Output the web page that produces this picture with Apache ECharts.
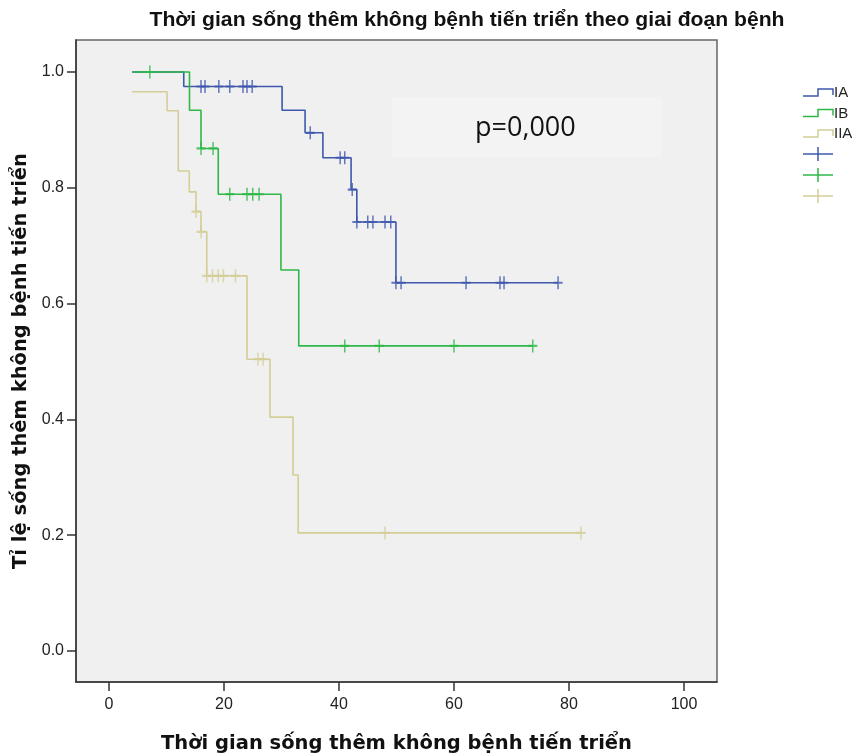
<!DOCTYPE html>
<html>
<head>
<meta charset="utf-8">
<script src="https://cdn.jsdelivr.net/npm/echarts@6/dist/echarts.min.js"></script>
<style>
  html, body { margin: 0; padding: 0; background: #fff; }
  #chart { width: 855px; height: 753px; }
</style>
</head>
<body>
<div id="chart"></div>
<script>
const groupNames = ['IA', 'IB', 'IIA']
const groupColors = ['#3E58AC', '#2EB848', '#D3CE97']

// Kaplan-Meier steps: time of each change and survival after it (last point = end of follow-up)
const iaTime = [4, 13, 30.1, 34.1, 37.2, 42.1, 43.1, 49.9, 78.1]
const iaSurv = [1.0, 0.975, 0.934, 0.895, 0.852, 0.797, 0.741, 0.636, 0.636]
const ibTime = [4, 14, 16, 19, 29.9, 33, 73.7]
const ibSurv = [1.0, 0.934, 0.868, 0.789, 0.658, 0.527, 0.527]
const iiaTime = [4, 10.1, 12.05, 13.96, 15.13, 16, 17, 24, 28, 32, 32.9, 82.1]
const iiaSurv = [0.966, 0.933, 0.829, 0.793, 0.759, 0.724, 0.648, 0.504, 0.404, 0.304, 0.204, 0.204]

// censored cases
const iaCensTime = [16, 16.7, 19.1, 21, 23.3, 24, 24.9, 35, 40.2, 41, 42.3, 43.1, 45, 45.9, 48, 49, 49.9, 50.8, 62.1, 68, 68.7, 78.1]
const iaCensSurv = [0.975, 0.975, 0.975, 0.975, 0.975, 0.975, 0.975, 0.895, 0.852, 0.852, 0.797, 0.741, 0.741, 0.741, 0.741, 0.741, 0.636, 0.636, 0.636, 0.636, 0.636, 0.636]
const ibCensTime = [7.1, 16, 18.1, 21, 24, 25, 26.1, 41, 47, 60, 73.7]
const ibCensSurv = [1.0, 0.868, 0.868, 0.789, 0.789, 0.789, 0.789, 0.527, 0.527, 0.527, 0.527]
const iiaCensTime = [15.13, 16, 17, 18, 19, 19.9, 22, 25.9, 26.8, 48, 82.1]
const iiaCensSurv = [0.759, 0.724, 0.648, 0.648, 0.648, 0.648, 0.648, 0.504, 0.504, 0.204, 0.204]

const xTicks = [0, 20, 40, 60, 80, 100]
const yTicks = [0, 0.2, 0.4, 0.6, 0.8, 1.0]

const titleText = 'Thời gian sống thêm không bệnh tiến triển theo giai đoạn bệnh'

const stepTimes = [iaTime, ibTime, iiaTime]
const stepSurv = [iaSurv, ibSurv, iiaSurv]
const censTimes = [iaCensTime, ibCensTime, iiaCensTime]
const censSurv = [iaCensSurv, ibCensSurv, iiaCensSurv]

const zip = (a, b) => a.map((v, i) => [v, b[i]])
const crossPath = 'path://M5,0H7V5H12V7H7V12H5V7H0V5H5Z'

const series = []
groupNames.forEach((name, i) => {
  series.push({
    name: name,
    type: 'line',
    step: 'end',
    showSymbol: false,
    silent: true,
    data: zip(stepTimes[i], stepSurv[i]),
    lineStyle: { color: groupColors[i], width: 1.6 },
    itemStyle: { color: groupColors[i] },
    z: 2 + i
  })
  series.push({
    name: name + ' censored',
    type: 'scatter',
    symbol: crossPath,
    symbolSize: [9, 13],
    silent: true,
    data: zip(censTimes[i], censSurv[i]),
    itemStyle: { color: groupColors[i] },
    z: 6
  })
})

// legend drawn like SPSS: step icons, then censor crosses
const legendGraphics = []
groupNames.forEach((name, i) => {
  const y = 93 + i * 20.5
  legendGraphics.push({
    type: 'polyline',
    shape: { points: [[803, y + 3], [818, y + 3], [818, y - 4], [833, y - 4], [833, y + 2]] },
    style: { stroke: groupColors[i], lineWidth: 1.5, fill: null }
  })
  legendGraphics.push({
    type: 'text',
    x: 834, y: y,
    style: { text: name, fill: '#222', font: '15px "Liberation Sans"', textVerticalAlign: 'middle' }
  })
  const cy = 154 + i * 21
  legendGraphics.push({
    type: 'line',
    shape: { x1: 803, y1: cy, x2: 833, y2: cy },
    style: { stroke: groupColors[i], lineWidth: 1.5 }
  })
  legendGraphics.push({
    type: 'line',
    shape: { x1: 818, y1: cy - 7, x2: 818, y2: cy + 7 },
    style: { stroke: groupColors[i], lineWidth: 1.5 }
  })
})

// title uses a condensed bold face: squeeze Liberation Sans Bold to the original width
const titleFont = 'bold 21px "Liberation Sans"'
const ctx = document.createElement('canvas').getContext('2d')
ctx.font = titleFont
const titleScale = 635 / ctx.measureText(titleText).width

const chart = echarts.init(document.getElementById('chart'))
chart.setOption({
  backgroundColor: '#fff',
  animation: false,
  grid: {
    left: 76, top: 40, right: 138, bottom: 71,
    outerBoundsMode: 'none',
    containLabel: false,
    show: true,
    backgroundColor: '#f0f0f0',
    borderColor: '#666',
    borderWidth: 1.5
  },
  xAxis: {
    type: 'value',
    min: -5.74,
    max: 105.74,
    name: 'Thời gian sống thêm không bệnh tiến triển',
    nameLocation: 'middle',
    nameGap: 52,
    nameTextStyle: { fontFamily: 'DejaVu Sans', fontWeight: 'bold', fontSize: 19.5, color: '#111' },
    axisLine: { show: true, onZero: false, lineStyle: { color: '#333', width: 1.5 } },
    axisTick: { show: true, customValues: xTicks, length: 9, lineStyle: { color: '#333', width: 1.5 } },
    axisLabel: { customValues: xTicks, margin: 15, fontSize: 16, color: '#222', fontFamily: 'Liberation Sans' },
    splitLine: { show: false }
  },
  yAxis: {
    type: 'value',
    min: -0.0535,
    max: 1.0553,
    name: 'Tỉ lệ sống thêm không bệnh tiến triển',
    nameLocation: 'middle',
    nameGap: 36,
    nameTextStyle: { fontFamily: 'DejaVu Sans', fontWeight: 'bold', fontSize: 19.5, color: '#111' },
    axisLine: { show: true, onZero: false, lineStyle: { color: '#333', width: 1.5 } },
    axisTick: { show: true, customValues: yTicks, length: 9, lineStyle: { color: '#333', width: 1.5 } },
    axisLabel: {
      customValues: yTicks, margin: 12, fontSize: 16, color: '#222', fontFamily: 'Liberation Sans',
      formatter: v => v.toFixed(1)
    },
    splitLine: { show: false }
  },
  graphic: [
    {
      type: 'text',
      x: 467, y: 20,
      scaleX: titleScale,
      style: { text: titleText, fill: '#111', font: titleFont, textAlign: 'center', textVerticalAlign: 'middle' }
    },
    {
      type: 'rect',
      shape: { x: 392, y: 97, width: 270, height: 60 },
      style: { fill: '#f3f3f3' },
      z: 1
    },
    {
      type: 'text',
      x: 475, y: 128,
      style: { text: 'p=0,000', fill: '#111', font: '27px "Open Sans"', textVerticalAlign: 'middle' },
      z: 2
    }
  ].concat(legendGraphics),
  series: series
})
</script>
</body>
</html>
